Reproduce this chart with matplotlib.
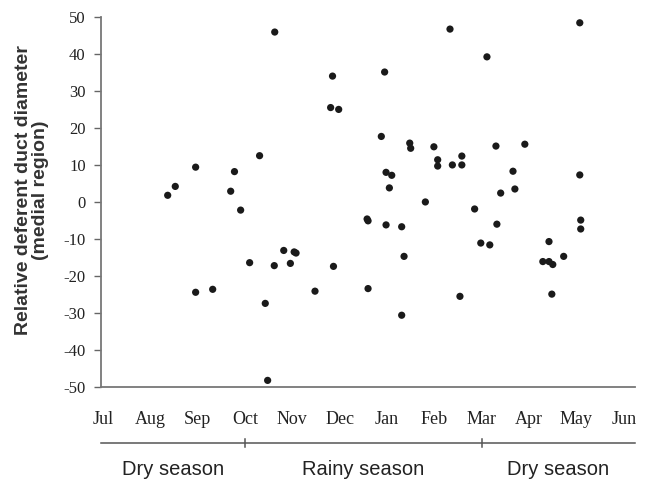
import matplotlib
matplotlib.use("Agg")
import matplotlib.pyplot as plt


months = ["Jul", "Aug", "Sep", "Oct", "Nov", "Dec", "Jan", "Feb", "Mar", "Apr", "May", "Jun"]

# sampling time as month index (0 = Jul)
month_pos = [
    1.37, 1.53, 1.96, 1.96, 2.32, 2.70, 2.78, 2.91, 3.10, 3.31, 3.43, 3.48,
    3.62, 3.63, 3.82, 4.04, 4.08, 3.96, 4.48, 4.81, 4.85, 4.87, 4.98, 5.58,
    5.60, 5.60, 5.88, 5.95, 5.98, 5.98, 6.05, 6.10, 6.31, 6.31, 6.36, 6.48,
    6.50, 6.81, 6.99, 7.07, 7.07, 7.33, 7.38, 7.58, 7.58, 7.54, 7.85, 7.98,
    8.11, 8.17, 8.30, 8.32, 8.40, 8.66, 8.70, 8.91, 9.29, 9.42, 9.42, 9.50,
    9.48, 9.73, 10.07, 10.07, 10.09, 10.09,
]

diameter = [
    1.8, 4.2, 9.4, -24.4, -23.6, 2.9, 8.2, -2.2, -16.4, 12.5, -27.4, -48.2,
    -17.2, 45.9, -13.1, -13.5, -13.8, -16.6, -24.1, 25.5, 34.0, -17.4, 25.0, -4.6,
    -5.1, -23.4, 17.7, 35.1, 8.0, -6.2, 3.8, 7.2, -6.7, -30.6, -14.7, 15.9,
    14.5, 0.0, 14.9, 11.4, 9.7, 46.7, 10.0, 10.0, 12.4, -25.5, -1.9, -11.1,
    39.2, -11.6, 15.1, -6.0, 2.4, 8.3, 3.5, 15.6, -16.1, -16.1, -10.7, -16.9,
    -24.9, -14.7, 48.4, 7.3, -4.9, -7.3,
]

y_ticks = [-50, -40, -30, -20, -10, 0, 10, 20, 30, 40, 50]

season_names = ["Dry season", "Rainy season", "Dry season"]
season_bounds = [3, 8]

x_min, x_max = -0.04, 11.23

fig = plt.figure(figsize=(6.51, 4.82), dpi=100)
ax = fig.add_axes([0.155, 0.197, 0.82, 0.768])

ax.scatter(month_pos, diameter, s=27, color="#1a1a1a", edgecolors="none", zorder=3)

ax.set_xlim(x_min, x_max)
ax.set_ylim(-50, 50)
ax.set_yticks(y_ticks)
ax.set_yticklabels([str(v) for v in y_ticks], family="Liberation Serif", fontsize=12, color="#222222")
ax.set_xticks(range(len(months)))
ax.set_xticklabels(months, family="Liberation Serif", fontsize=13, color="#222222")
ax.tick_params(axis="x", length=0, pad=17)
ax.tick_params(axis="y", length=5, width=1, color="#666666", pad=6)

for side in ["top", "right"]:
    ax.spines[side].set_visible(False)
for side in ["left", "bottom"]:
    ax.spines[side].set_color("#777777")
    ax.spines[side].set_linewidth(1.3)

# season bar below the month labels
trans = ax.get_xaxis_transform()
line_y = -0.151
ax.plot([x_min, x_max], [line_y, line_y], color="#555555", linewidth=1.1, transform=trans, clip_on=False)
for b in season_bounds:
    ax.plot([b, b], [line_y - 0.012, line_y + 0.012], color="#555555", linewidth=1.1, transform=trans, clip_on=False)

edges = [x_min] + season_bounds + [x_max]
for i, name in enumerate(season_names):
    mid = (edges[i] + edges[i + 1]) / 2
    ax.text(mid, -0.222, name, transform=trans, ha="center", va="center",
            family="Liberation Sans", fontsize=14.5, color="#222222")

fig.text(0.049, 0.605, "Relative deferent duct diameter\n(medial region)", rotation=90,
         ha="center", va="center", multialignment="center",
         family="Liberation Sans", fontweight="bold", fontsize=14, color="#333333", linespacing=1.05)

fig.savefig("out.png", dpi=100)
